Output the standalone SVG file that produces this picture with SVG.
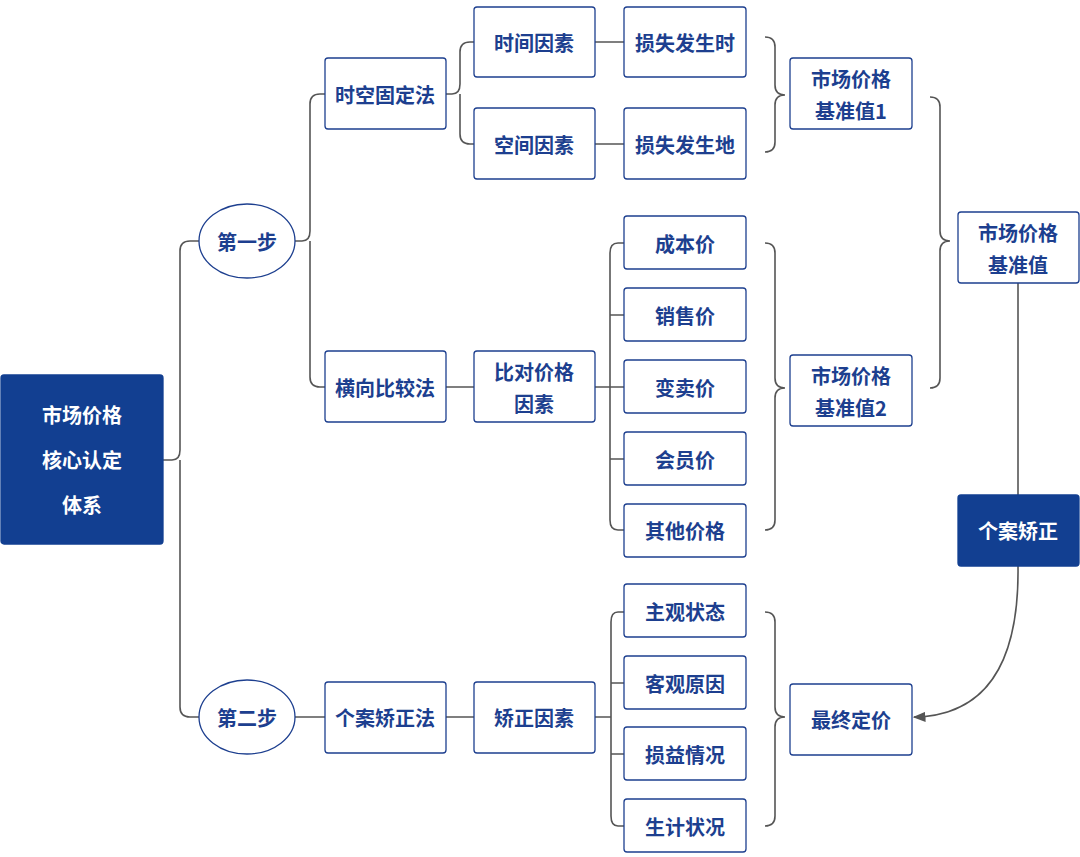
<svg xmlns="http://www.w3.org/2000/svg" width="1080" height="857" viewBox="0 0 1080 857">
<defs>
<style>
.n rect,.n ellipse{fill:#fff;stroke:#1d3f8f;stroke-width:1.3}
.d rect{fill:#123f91;stroke:#123f91}
text{font-family:"Noto Sans CJK SC","Noto Sans",sans-serif;font-weight:bold;font-size:20px;fill:#1d3f8f;text-anchor:middle;dominant-baseline:central}
.d text{fill:#fff}
.c path{fill:none;stroke:#555;stroke-width:1.6}
</style>
<marker id="ar" viewBox="0 0 10 10" refX="9" refY="5" markerWidth="8" markerHeight="8" orient="auto"><path d="M0,1 L10,5 L0,9 z" fill="#555"/></marker>
</defs>
<g class="c">
<path d="M163,460 H172 Q180,460 180,450 V251 Q180,241 190,241 H199"/>
<path d="M180,460 V707 Q180,717 190,717 H199"/>
<path d="M295,241 H302 Q310,241 310,231 V104 Q310,94 320,94 H325"/>
<path d="M310,241 V377 Q310,387 320,387 H325"/>
<path d="M446,94 H452 Q460,94 460,84 V52 Q460,42 470,42 H474"/>
<path d="M460,94 V134 Q460,144 470,144 H474"/>
<path d="M595,42 H624 M595,144 H624"/>
<path d="M446,387 H474 M446,717 H474 M295,717 H325"/>
<path d="M595,387 H610 V253 Q610,243 618,243 H624 M610,315 H624 M610,387 H624 M610,459 H624 M610,387 V520 Q610,530 618,530 H624"/>
<path d="M595,717 H611 V622 Q611,612 618,612 H624 M611,683 H624 M611,754 H624 M611,717 V816 Q611,826 618,826 H624"/>
<path d="M765,37 Q775,37 775,47 V85 Q775,95 785,95 Q775,95 775,105 V142 Q775,152 765,152"/>
<path d="M765,243 Q775,243 775,253 V378 Q775,388 785,388 Q775,388 775,398 V520 Q775,530 765,530"/>
<path d="M765,612 Q775,612 775,622 V707 Q775,717 785,717 Q775,717 775,727 V816 Q775,826 765,826"/>
<path d="M930,97 Q940,97 940,107 V231 Q940,241 950,241 Q940,241 940,251 V378 Q940,388 930,388"/>
<path d="M1018,283 V495"/>
<path d="M1018,566 Q1020,715 914,717" marker-end="url(#ar)"/>
</g>
<g id="root" class="n d"><rect x="1" y="375" width="162" height="169" rx="3"/><text x="82" y="414" font-size="27">市场价格</text><text x="82" y="459" font-size="27">核心认定</text><text x="82" y="504" font-size="27">体系</text></g>
<g id="s1" class="n"><ellipse cx="247" cy="241" rx="48" ry="37"/><text x="247" y="241">第一步</text></g>
<g id="s2" class="n"><ellipse cx="247" cy="717" rx="48" ry="37"/><text x="247" y="717">第二步</text></g>
<g id="m1" class="n"><rect x="325" y="58" width="121" height="71" rx="3"/><text x="385" y="94">时空固定法</text></g>
<g id="m2" class="n"><rect x="325" y="351" width="121" height="71" rx="3"/><text x="385" y="387">横向比较法</text></g>
<g id="m3" class="n"><rect x="325" y="682" width="121" height="71" rx="3"/><text x="385" y="717">个案矫正法</text></g>
<g id="f1" class="n"><rect x="474" y="7" width="121" height="70" rx="3"/><text x="534" y="42">时间因素</text></g>
<g id="f2" class="n"><rect x="474" y="108" width="121" height="71" rx="3"/><text x="534" y="144">空间因素</text></g>
<g id="f3" class="n"><rect x="474" y="351" width="121" height="71" rx="3"/><text x="534" y="371">比对价格</text><text x="534" y="403">因素</text></g>
<g id="f4" class="n"><rect x="474" y="682" width="121" height="71" rx="3"/><text x="534" y="717">矫正因素</text></g>
<g id="l1" class="n"><rect x="624" y="7" width="122" height="70" rx="3"/><text x="685" y="42">损失发生时</text></g>
<g id="l2" class="n"><rect x="624" y="108" width="122" height="71" rx="3"/><text x="685" y="144">损失发生地</text></g>
<g id="p1" class="n"><rect x="624" y="216" width="122" height="53" rx="3"/><text x="685" y="243">成本价</text></g>
<g id="p2" class="n"><rect x="624" y="288" width="122" height="53" rx="3"/><text x="685" y="315">销售价</text></g>
<g id="p3" class="n"><rect x="624" y="360" width="122" height="53" rx="3"/><text x="685" y="387">变卖价</text></g>
<g id="p4" class="n"><rect x="624" y="432" width="122" height="53" rx="3"/><text x="685" y="459">会员价</text></g>
<g id="p5" class="n"><rect x="624" y="504" width="122" height="53" rx="3"/><text x="685" y="530">其他价格</text></g>
<g id="c1" class="n"><rect x="624" y="584" width="122" height="53" rx="3"/><text x="685" y="611">主观状态</text></g>
<g id="c2" class="n"><rect x="624" y="656" width="122" height="53" rx="3"/><text x="685" y="683">客观原因</text></g>
<g id="c3" class="n"><rect x="624" y="727" width="122" height="53" rx="3"/><text x="685" y="754">损益情况</text></g>
<g id="c4" class="n"><rect x="624" y="799" width="122" height="53" rx="3"/><text x="685" y="826">生计状况</text></g>
<g id="b1" class="n"><rect x="790" y="58" width="122" height="71" rx="3"/><text x="851" y="78">市场价格</text><text x="851" y="110">基准值1</text></g>
<g id="b2" class="n"><rect x="790" y="355" width="122" height="71" rx="3"/><text x="851" y="375">市场价格</text><text x="851" y="407">基准值2</text></g>
<g id="b" class="n"><rect x="958" y="212" width="121" height="71" rx="3"/><text x="1018" y="232">市场价格</text><text x="1018" y="264">基准值</text></g>
<g id="adj" class="n d"><rect x="958" y="495" width="121" height="71" rx="3"/><text x="1018" y="530">个案矫正</text></g>
<g id="final" class="n"><rect x="790" y="684" width="122" height="71" rx="3"/><text x="851" y="719">最终定价</text></g>
</svg>
